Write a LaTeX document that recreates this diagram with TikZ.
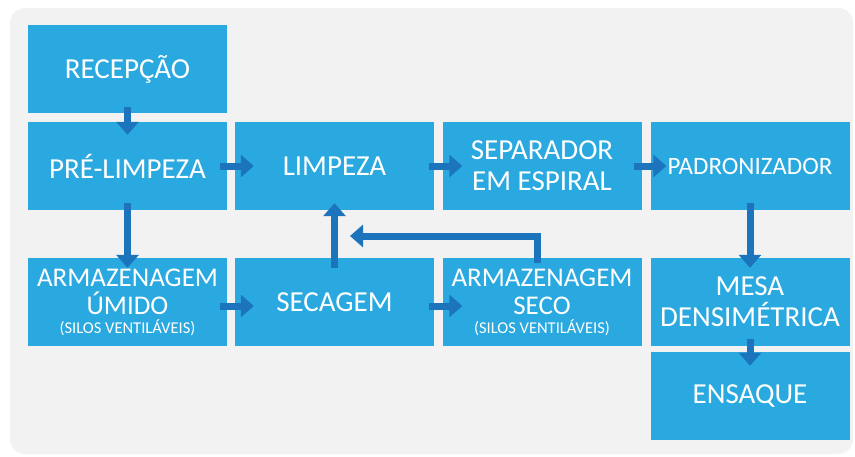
\documentclass[tikz,border=0pt]{standalone}
\usepackage{fontspec}
\setmainfont{Carlito}
\usetikzlibrary{arrows.meta}
\definecolor{boxblue}{HTML}{29A9E0}
\definecolor{arrowblue}{HTML}{1C74BD}
\definecolor{panelgray}{HTML}{F2F2F2}

\begin{document}
\begin{tikzpicture}[x=1pt, y=-1pt,
    stage/.style={fill=boxblue, text=white, minimum width=199pt, minimum height=88pt,
      inner sep=0pt, align=center, font=\fontsize{29}{31}\selectfont},
    silo/.style={stage, font=\fontsize{27}{28}\selectfont},
    flow/.style={draw=arrowblue, line width=7pt, -{Triangle[width=22pt,length=13pt]}}]
  \useasboundingbox (0,0) rectangle (855,456);
  \fill[panelgray, rounded corners=15pt] (10,8) rectangle (853,454);

  \node[stage] (rec) at (127.5,69) {RECEPÇÃO};
  \node[stage] (pre) at (127.5,166) {PRÉ-LIMPEZA};
  \node[stage] (limp) at (334.5,166) {LIMPEZA};
  \node[stage] (sep) at (542,166) {SEPARADOR\\EM ESPIRAL};
  \node[stage, font=\fontsize{25}{30}\selectfont] (pad) at (750,166) {PADRONIZADOR};
  \node[silo] (umido) at (127.5,302) {ARMAZENAGEM\\ÚMIDO\\[-9pt]{\fontsize{16.5}{16}\selectfont (SILOS VENTILÁVEIS)}};
  \node[stage] (sec) at (334.5,302) {SECAGEM};
  \node[silo] (seco) at (542,302) {ARMAZENAGEM\\SECO\\[-9pt]{\fontsize{16.5}{16}\selectfont (SILOS VENTILÁVEIS)}};
  \node[stage] (mesa) at (750,302) {MESA\\DENSIMÉTRICA};
  \node[stage] (ens) at (750,396) {ENSAQUE};

  \coordinate (back) at (350,236);

  \draw[flow] ([yshift=6pt]rec.south) -- ([yshift=-13pt]pre.north);
  \draw[flow] ([xshift=-7pt]pre.east) -- ([xshift=19pt]limp.west);
  \draw[flow] ([xshift=-5pt]limp.east) -- ([xshift=20pt]sep.west);
  \draw[flow] ([xshift=-8pt]sep.east) -- ([xshift=16pt]pad.west);
  \draw[flow] ([yshift=7pt]pre.south) -- ([yshift=-10pt]umido.north);
  \draw[flow] ([xshift=-7pt,yshift=-4pt]umido.east) -- ([xshift=19pt,yshift=-4pt]sec.west);
  \draw[flow] ([xshift=-5pt,yshift=-4pt]sec.east) -- ([xshift=20pt,yshift=-4pt]seco.west);
  \draw[flow] ([yshift=-10pt]sec.north) -- ([yshift=7pt]limp.south);
  \draw[flow] ([xshift=-5pt,yshift=-5pt]seco.north) |- (back);
  \draw[flow] ([yshift=7pt]pad.south) -- ([yshift=-10pt]mesa.north);
  \draw[flow] ([yshift=7pt]mesa.south) -- ([yshift=-14pt]ens.north);
\end{tikzpicture}
\end{document}
